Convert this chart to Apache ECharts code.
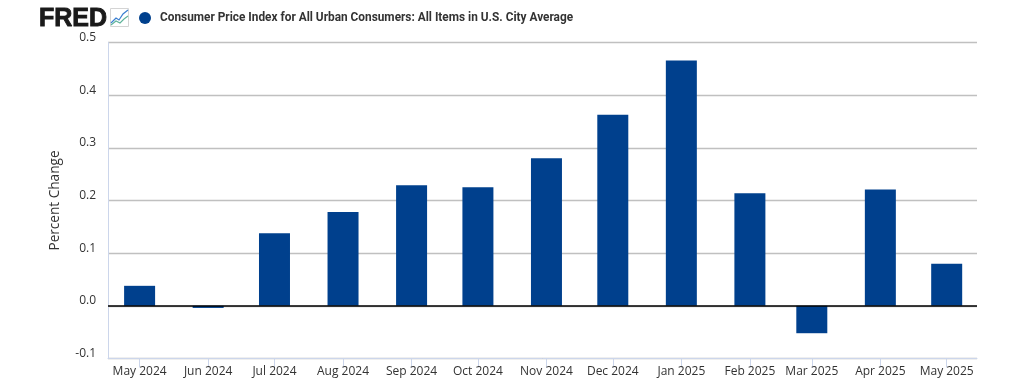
<!DOCTYPE html>
<html><head><meta charset="utf-8">
<style>html,body{margin:0;padding:0;background:#fff}#c{width:1024px;height:384px}</style>
<script src="https://cdn.jsdelivr.net/npm/echarts@6/dist/echarts.min.js"></script>
</head><body><div id="c"></div>
<script>
const dates = ['2024-05-01','2024-06-01','2024-07-01','2024-08-01','2024-09-01','2024-10-01','2024-11-01','2024-12-01','2025-01-01','2025-02-01','2025-03-01','2025-04-01','2025-05-01'];
const categories = ['May 2024','Jun 2024','Jul 2024','Aug 2024','Sep 2024','Oct 2024','Nov 2024','Dec 2024','Jan 2025','Feb 2025','Mar 2025','Apr 2025','May 2025'];
const values = [0.038,-0.004,0.138,0.178,0.229,0.225,0.28,0.363,0.466,0.214,-0.052,0.221,0.08];
const seriesName = 'Consumer Price Index for All Urban Consumers: All Items in U.S. City Average';
const yTitle = 'Percent Change';
const axisMin = '2024-04-16T17:00:00Z';
const axisMax = '2025-05-14T17:00:00Z';
const times = dates.map(d => Date.parse(d + 'T00:00:00Z'));
const labelFor = v => categories[times.indexOf(v)] || '';
const chart = echarts.init(document.getElementById('c'), null, {renderer:'canvas'});
chart.setOption({
  animation:false,
  backgroundColor:'#fff',
  grid:{left:108,right:47,top:42.5,bottom:25.5},
  legend:{
    left:134, top:7, itemWidth:12, itemHeight:12, itemGap:0, icon:'circle',
    textStyle:{fontFamily:'Roboto',fontWeight:700,fontSize:11.85,color:'#333',padding:[0,0,0,4]},
    data:[seriesName]
  },
  xAxis:{
    type:'value', min:Date.parse(axisMin), max:Date.parse(axisMax), splitLine:{show:false},
    axisLine:{show:true,onZero:false,lineStyle:{color:'#ccd6eb',width:1}},
    axisTick:{show:true,length:9,customValues:times,lineStyle:{color:'#ccd6eb'}},
    axisLabel:{customValues:times,formatter:v=>labelFor(v),margin:7,hideOverlap:false,
      fontFamily:'Open Sans',fontSize:12,color:'#333',showMinLabel:true,showMaxLabel:true}
  },
  yAxis:{
    type:'value', min:-0.1, max:0.5, interval:0.1,
    name:yTitle, nameLocation:'middle', nameGap:46, nameRotate:90,
    nameTextStyle:{fontFamily:'Open Sans',fontSize:13.6,color:'#333'},
    axisLine:{show:true,onZero:false,lineStyle:{color:'#ccd6eb'}},
    axisTick:{show:false},
    splitLine:{show:true,lineStyle:{color:'#c0c0c0',width:1.4}},
    axisLabel:{formatter:v=>v.toFixed(1),margin:12,fontFamily:'Open Sans',fontSize:12,color:'#333',verticalAlign:'bottom',lineHeight:10}
  },
  series:[{
    name:seriesName, type:'bar', barWidth:31,
    itemStyle:{color:'#00408d'},
    data:values.map((v,i)=>[times[i],v]),
    markLine:{silent:true,symbol:'none',label:{show:false},lineStyle:{color:'#000',width:1.5,type:'solid'},data:[{yAxis:0}]}
  }],
  graphic:[
    {type:'text',left:38.5,top:6,style:{text:'FRED',fontFamily:'Liberation Sans',fontWeight:700,fontSize:25,fill:'#1a1a1a',stroke:'#1a1a1a',lineWidth:0.9}},
    {type:'rect',shape:{x:110.5,y:8.5,width:18,height:18},style:{fill:'#fff',stroke:'#d4d4d4',lineWidth:1}},
    {type:'polyline',shape:{points:[[111,23],[116,18],[119,20],[123,14],[128,10]]},style:{fill:'none',stroke:'#3b7fd0',lineWidth:1.2}},
    {type:'polyline',shape:{points:[[111,25],[116,21],[120,23],[124,19],[128,16]]},style:{fill:'none',stroke:'#5fb39a',lineWidth:1.1}}
  ]
});
</script></body></html>
